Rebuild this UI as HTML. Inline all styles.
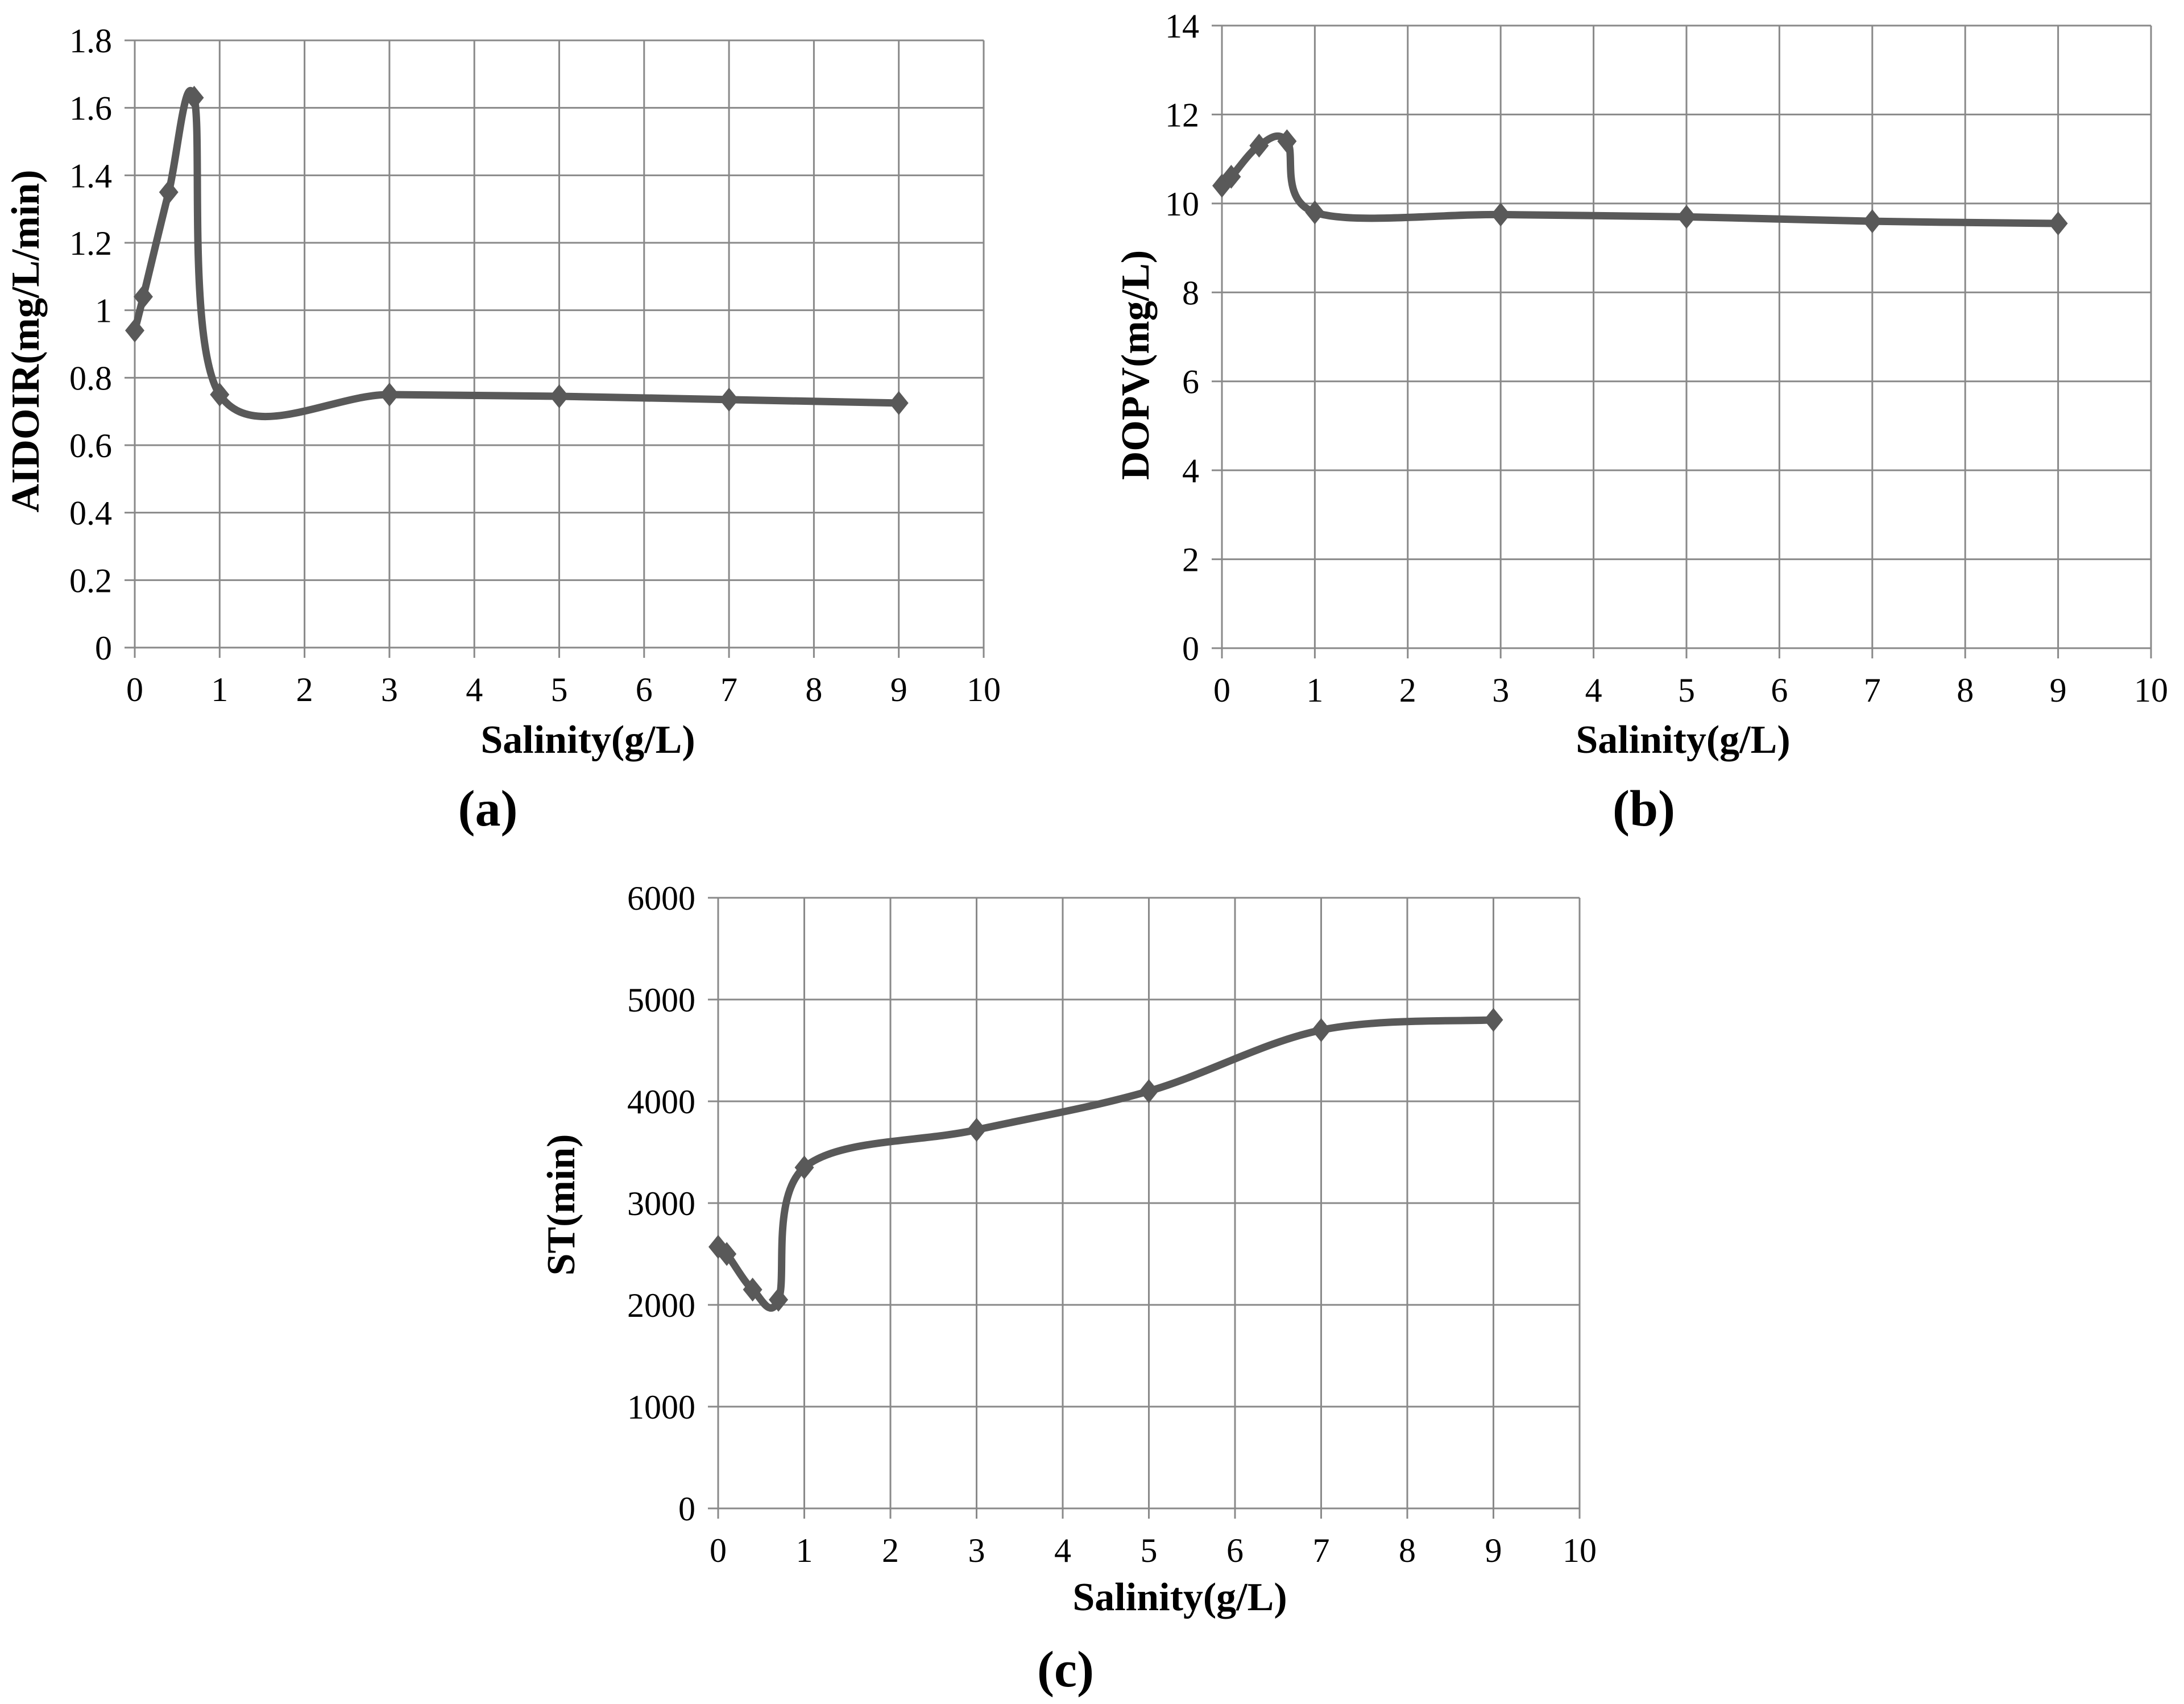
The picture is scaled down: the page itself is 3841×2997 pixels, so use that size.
<!DOCTYPE html>
<html><head><meta charset="utf-8"><style>
html,body{margin:0;padding:0;background:#fff;}
svg{display:block;}
text{font-family:"Liberation Serif",serif;fill:#000;}
</style></head><body>
<svg id="fig" width="3841" height="2997" viewBox="0 0 3841 2997" xmlns="http://www.w3.org/2000/svg"></svg>
<script>
const salinity = [0, 0.1, 0.4, 0.7, 1, 3, 5, 7, 9];
const aidoir = [0.94, 1.04, 1.35, 1.63, 0.75, 0.75, 0.745, 0.735, 0.725];
const dopv = [10.4, 10.6, 11.3, 11.4, 9.8, 9.75, 9.7, 9.6, 9.55];
const stMin = [2570, 2500, 2150, 2050, 3350, 3720, 4100, 4700, 4800];
const xTicks = [0,1,2,3,4,5,6,7,8,9,10];
const aTicks = [0,0.2,0.4,0.6,0.8,1,1.2,1.4,1.6,1.8];
const bTicks = [0,2,4,6,8,10,12,14];
const cTicks = [0,1000,2000,3000,4000,5000,6000];

const NS="http://www.w3.org/2000/svg";
const svg=document.getElementById('fig');
function mk(tag,attrs,parent){const e=document.createElementNS(NS,tag);for(const k in attrs)e.setAttribute(k,attrs[k]);(parent||svg).appendChild(e);return e;}

function chart(cfg){
  const g=mk('g',{});
  
  
  const xs=v=>cfg.x0+(v-0)/(10-0)*(cfg.x1-cfg.x0);
  const ys=v=>cfg.y0-(v-cfg.ymin)/(cfg.ymax-cfg.ymin)*(cfg.y0-cfg.y1);
  xTicks.forEach(t=>{
    const l=mk('line',{x1:xs(t),x2:xs(t),y1:cfg.y1,y2:cfg.y0+18,stroke:'#898989','stroke-width':3},g);
    
    
    const tx=mk('text',{x:xs(t),y:cfg.y0+94,'font-size':60,'text-anchor':'middle'},g);
    tx.textContent=t;
    
    
  });
  cfg.ticks.forEach(t=>{
    const l=mk('line',{x1:cfg.x0-18,x2:cfg.x1,y1:ys(t),y2:ys(t),stroke:'#898989','stroke-width':3},g);
    
    
    const tx=mk('text',{x:cfg.x0-40,y:ys(t)+21,'font-size':60,'text-anchor':'end'},g);
    tx.textContent=t;
    
    
  });
  const P=salinity.map((s,i)=>[xs(s),ys(cfg.data[i])]);
  let d='M'+P[0][0]+','+P[0][1];
  for(let i=0;i<P.length-1;i++){
    const p0=P[i-1]||P[i],p1=P[i],p2=P[i+1],p3=P[i+2]||P[i+1];
    const c1=[p1[0]+(p2[0]-p0[0])/6,p1[1]+(p2[1]-p0[1])/6];
    const c2=[p2[0]-(p3[0]-p1[0])/6,p2[1]-(p3[1]-p1[1])/6];
    d+=' C'+c1+' '+c2+' '+p2;
  }
  const path=mk('path',{d:d,fill:'none',stroke:'#595959','stroke-width':13,'stroke-linejoin':'round'},g);
  
  
  P.forEach(p=>{
    const m=mk('polygon',{points:`${p[0]},${p[1]-21} ${p[0]+17},${p[1]} ${p[0]},${p[1]+21} ${p[0]-17},${p[1]}`,fill:'#595959'},g);
    
    
  });
  const xt=mk('text',{x:cfg.xtx,y:cfg.xty,'font-size':70,'font-weight':'bold','text-anchor':'middle'},g);
  xt.textContent='Salinity(g/L)';
  
  
  const yt=mk('text',{x:0,y:0,'font-size':70,'font-weight':'bold','text-anchor':'middle',transform:`translate(${cfg.ytx},${cfg.yty}) rotate(-90)`},g);
  yt.textContent=cfg.ytitle;
  
  
  const pl=mk('text',{x:cfg.ltx,y:cfg.lty,'font-size':90,'font-weight':'bold','text-anchor':'middle'},g);
  pl.textContent=cfg.label;
  
  
}
chart({name:'chart-a',x0:237,x1:1730,y0:1139,y1:71,ymin:0,ymax:1.8,ticks:aTicks,data:aidoir,ytitle:'AIDOIR(mg/L/min)',xtx:1034,xty:1324,ytx:68,yty:600,label:'(a)',ltx:858,lty:1452});
chart({name:'chart-b',x0:2149,x1:3783,y0:1140,y1:45,ymin:0,ymax:14,ticks:bTicks,data:dopv,ytitle:'DOPV(mg/L)',xtx:2960,xty:1324,ytx:2020,yty:642,label:'(b)',ltx:2891,lty:1452});
chart({name:'chart-c',x0:1263,x1:2778,y0:2653,y1:1579,ymin:0,ymax:6000,ticks:cTicks,data:stMin,ytitle:'ST(min)',xtx:2075,xty:2832,ytx:1010,yty:2119,label:'(c)',ltx:1874,lty:2966});
</script>
</body></html>
